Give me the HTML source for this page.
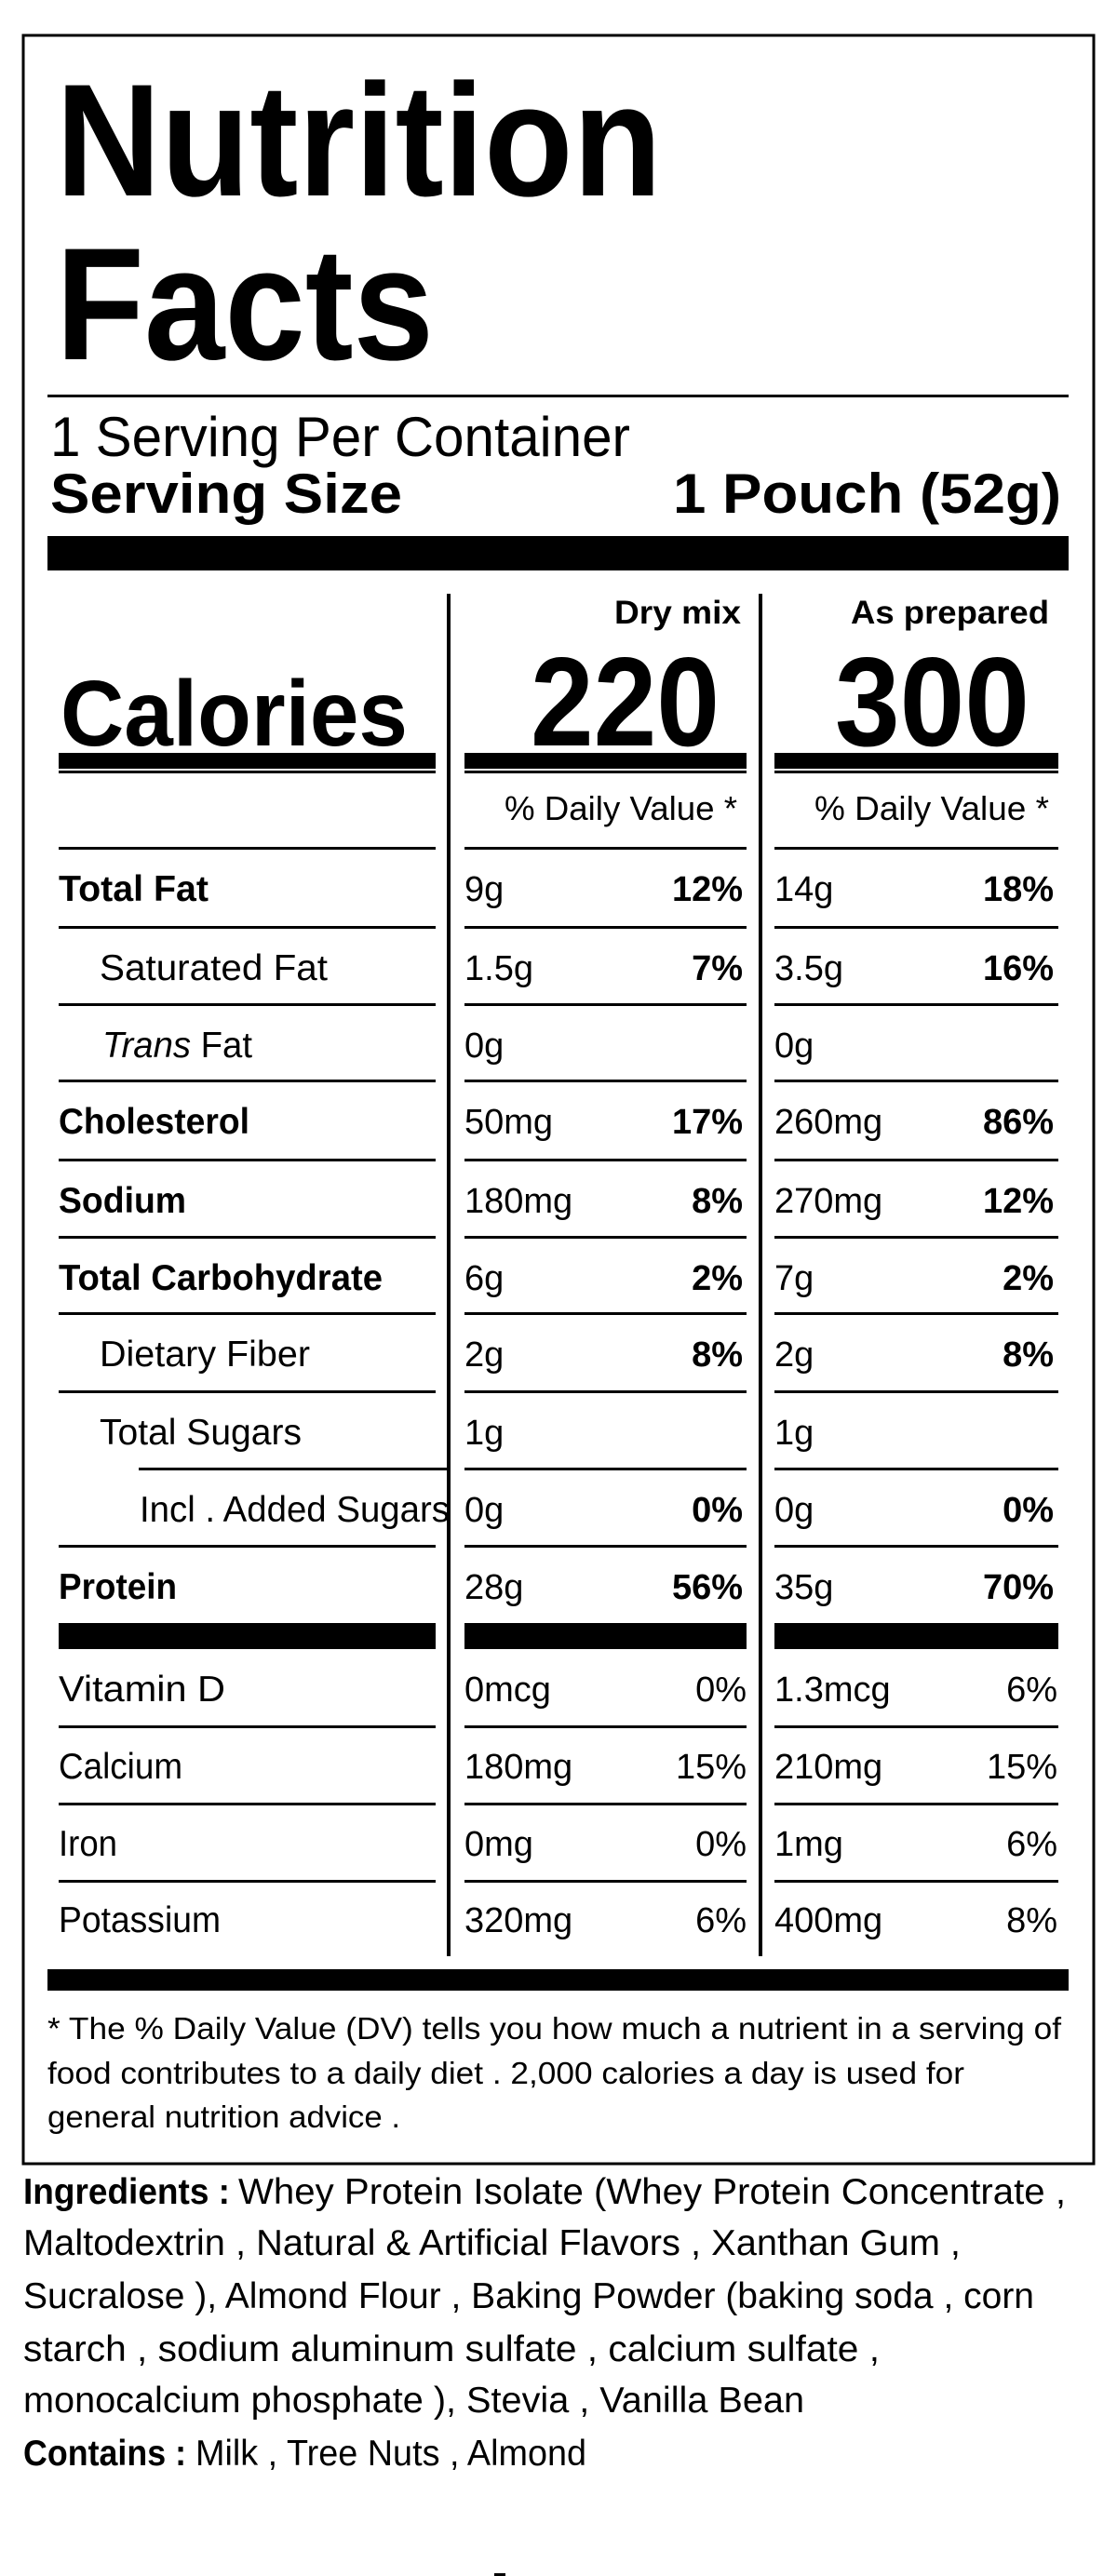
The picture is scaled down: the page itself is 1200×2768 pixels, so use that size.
<!DOCTYPE html>
<html><head><meta charset="utf-8"><style>
html,body{margin:0;padding:0;background:#fff;}
svg{display:block;}
text{font-family:"Liberation Sans",Arial,sans-serif;fill:#000;}
.b{font-weight:bold;}
</style></head><body>
<svg width="1200" height="2768" viewBox="0 0 1200 2768" xmlns="http://www.w3.org/2000/svg">
<rect x="25" y="38" width="1150" height="2287" fill="none" stroke="#000" stroke-width="3"/>
<text x="60" y="210" class="b" font-size="172" textLength="651" lengthAdjust="spacingAndGlyphs">Nutrition</text>
<text x="60" y="386" class="b" font-size="172" textLength="406" lengthAdjust="spacingAndGlyphs">Facts</text>
<rect x="51" y="424" width="1097" height="3"/>
<text x="54" y="490" font-size="60" textLength="623" lengthAdjust="spacingAndGlyphs">1 Serving  Per Container</text>
<text x="54" y="551" class="b" font-size="60" textLength="378" lengthAdjust="spacingAndGlyphs">Serving Size</text>
<text x="723" y="551" class="b" font-size="60" textLength="417" lengthAdjust="spacingAndGlyphs">1 Pouch (52g)</text>
<rect x="51" y="576" width="1097" height="37"/>
<rect x="480" y="638" width="4" height="1464"/>
<rect x="815" y="638" width="4" height="1464"/>
<text x="660" y="670" class="b" font-size="35" textLength="136" lengthAdjust="spacingAndGlyphs">Dry mix</text>
<text x="914" y="670" class="b" font-size="35" textLength="213" lengthAdjust="spacingAndGlyphs">As prepared</text>
<text x="65" y="801" class="b" font-size="100" textLength="373" lengthAdjust="spacingAndGlyphs">Calories</text>
<text x="570" y="801" class="b" font-size="136" textLength="203" lengthAdjust="spacingAndGlyphs">220</text>
<text x="897" y="801" class="b" font-size="136" textLength="209" lengthAdjust="spacingAndGlyphs">300</text>
<g>
<rect x="63" y="809" width="405" height="17"/><rect x="63" y="828" width="405" height="3"/>
<rect x="499" y="809" width="303" height="17"/><rect x="499" y="828" width="303" height="3"/>
<rect x="832" y="809" width="305" height="17"/><rect x="832" y="828" width="305" height="3"/>
</g>
<text x="542" y="881" font-size="36" textLength="250" lengthAdjust="spacingAndGlyphs">% Daily  Value *</text>
<text x="875" y="881" font-size="36" textLength="252" lengthAdjust="spacingAndGlyphs">% Daily  Value *</text>
<g fill="#000">
<rect x="63" y="910" width="405" height="3"/><rect x="499" y="910" width="303" height="3"/><rect x="832" y="910" width="305" height="3"/>
<rect x="63" y="995" width="405" height="3"/><rect x="499" y="995" width="303" height="3"/><rect x="832" y="995" width="305" height="3"/>
<rect x="63" y="1078" width="405" height="3"/><rect x="499" y="1078" width="303" height="3"/><rect x="832" y="1078" width="305" height="3"/>
<rect x="63" y="1160" width="405" height="3"/><rect x="499" y="1160" width="303" height="3"/><rect x="832" y="1160" width="305" height="3"/>
<rect x="63" y="1245" width="405" height="3"/><rect x="499" y="1245" width="303" height="3"/><rect x="832" y="1245" width="305" height="3"/>
<rect x="63" y="1328" width="405" height="3"/><rect x="499" y="1328" width="303" height="3"/><rect x="832" y="1328" width="305" height="3"/>
<rect x="63" y="1410" width="405" height="3"/><rect x="499" y="1410" width="303" height="3"/><rect x="832" y="1410" width="305" height="3"/>
<rect x="63" y="1494" width="405" height="3"/><rect x="499" y="1494" width="303" height="3"/><rect x="832" y="1494" width="305" height="3"/>
<rect x="149" y="1577" width="331" height="3"/><rect x="499" y="1577" width="303" height="3"/><rect x="832" y="1577" width="305" height="3"/>
<rect x="63" y="1660" width="405" height="3"/><rect x="499" y="1660" width="303" height="3"/><rect x="832" y="1660" width="305" height="3"/>
<rect x="63" y="1744" width="405" height="28"/><rect x="499" y="1744" width="303" height="28"/><rect x="832" y="1744" width="305" height="28"/>
<rect x="63" y="1854" width="405" height="3"/><rect x="499" y="1854" width="303" height="3"/><rect x="832" y="1854" width="305" height="3"/>
<rect x="63" y="1937" width="405" height="3"/><rect x="499" y="1937" width="303" height="3"/><rect x="832" y="1937" width="305" height="3"/>
<rect x="63" y="2020" width="405" height="3"/><rect x="499" y="2020" width="303" height="3"/><rect x="832" y="2020" width="305" height="3"/>
</g>
<g font-size="39">
<text x="63" y="968" class="b" textLength="161" lengthAdjust="spacingAndGlyphs">Total  Fat</text>
<text x="107" y="1053" textLength="245" lengthAdjust="spacingAndGlyphs">Saturated   Fat</text>
<text x="110" y="1136" textLength="161" lengthAdjust="spacingAndGlyphs"><tspan font-style="italic">Trans</tspan> Fat</text>
<text x="63" y="1218" class="b" textLength="205" lengthAdjust="spacingAndGlyphs">Cholesterol</text>
<text x="63" y="1303" class="b" textLength="137" lengthAdjust="spacingAndGlyphs">Sodium</text>
<text x="63" y="1386" class="b" textLength="348" lengthAdjust="spacingAndGlyphs">Total  Carbohydrate</text>
<text x="107" y="1468" textLength="226" lengthAdjust="spacingAndGlyphs">Dietary  Fiber</text>
<text x="107" y="1552" textLength="217" lengthAdjust="spacingAndGlyphs">Total  Sugars</text>
<text x="150" y="1635" textLength="333" lengthAdjust="spacingAndGlyphs">Incl . Added  Sugars</text>
<text x="63" y="1718" class="b" textLength="127" lengthAdjust="spacingAndGlyphs">Protein</text>
<text x="63" y="1828" textLength="179" lengthAdjust="spacingAndGlyphs">Vitamin   D</text>
<text x="63" y="1911" textLength="133" lengthAdjust="spacingAndGlyphs">Calcium</text>
<text x="63" y="1994" textLength="63" lengthAdjust="spacingAndGlyphs">Iron</text>
<text x="63" y="2076" textLength="174" lengthAdjust="spacingAndGlyphs">Potassium</text>
</g>
<g font-size="38">
<text x="499" y="968">9g</text><text x="798" y="968" class="b" text-anchor="end">12%</text>
<text x="832" y="968">14g</text><text x="1132" y="968" class="b" text-anchor="end">18%</text>
<text x="499" y="1053">1.5g</text><text x="798" y="1053" class="b" text-anchor="end">7%</text>
<text x="832" y="1053">3.5g</text><text x="1132" y="1053" class="b" text-anchor="end">16%</text>
<text x="499" y="1136">0g</text>
<text x="832" y="1136">0g</text>
<text x="499" y="1218">50mg</text><text x="798" y="1218" class="b" text-anchor="end">17%</text>
<text x="832" y="1218">260mg</text><text x="1132" y="1218" class="b" text-anchor="end">86%</text>
<text x="499" y="1303">180mg</text><text x="798" y="1303" class="b" text-anchor="end">8%</text>
<text x="832" y="1303">270mg</text><text x="1132" y="1303" class="b" text-anchor="end">12%</text>
<text x="499" y="1386">6g</text><text x="798" y="1386" class="b" text-anchor="end">2%</text>
<text x="832" y="1386">7g</text><text x="1132" y="1386" class="b" text-anchor="end">2%</text>
<text x="499" y="1468">2g</text><text x="798" y="1468" class="b" text-anchor="end">8%</text>
<text x="832" y="1468">2g</text><text x="1132" y="1468" class="b" text-anchor="end">8%</text>
<text x="499" y="1552">1g</text>
<text x="832" y="1552">1g</text>
<text x="499" y="1635">0g</text><text x="798" y="1635" class="b" text-anchor="end">0%</text>
<text x="832" y="1635">0g</text><text x="1132" y="1635" class="b" text-anchor="end">0%</text>
<text x="499" y="1718">28g</text><text x="798" y="1718" class="b" text-anchor="end">56%</text>
<text x="832" y="1718">35g</text><text x="1132" y="1718" class="b" text-anchor="end">70%</text>
<text x="499" y="1828">0mcg</text><text x="802" y="1828" text-anchor="end">0%</text>
<text x="832" y="1828">1.3mcg</text><text x="1136" y="1828" text-anchor="end">6%</text>
<text x="499" y="1911">180mg</text><text x="802" y="1911" text-anchor="end">15%</text>
<text x="832" y="1911">210mg</text><text x="1136" y="1911" text-anchor="end">15%</text>
<text x="499" y="1994">0mg</text><text x="802" y="1994" text-anchor="end">0%</text>
<text x="832" y="1994">1mg</text><text x="1136" y="1994" text-anchor="end">6%</text>
<text x="499" y="2076">320mg</text><text x="802" y="2076" text-anchor="end">6%</text>
<text x="832" y="2076">400mg</text><text x="1136" y="2076" text-anchor="end">8%</text>
</g>
<rect x="51" y="2116" width="1097" height="23"/>
<g font-size="33">
<text x="51" y="2191" textLength="1089" lengthAdjust="spacingAndGlyphs">* The % Daily Value (DV) tells  you  how  much  a nutrient   in a serving  of</text>
<text x="51" y="2239" textLength="985" lengthAdjust="spacingAndGlyphs">food  contributes   to a daily  diet . 2,000  calories  a day is used  for</text>
<text x="51" y="2286" textLength="379" lengthAdjust="spacingAndGlyphs">general  nutrition   advice .</text>
</g>
<g font-size="39">
<text x="25" y="2368" class="b" textLength="222" lengthAdjust="spacingAndGlyphs">Ingredients :</text>
<text x="256" y="2368" textLength="889" lengthAdjust="spacingAndGlyphs">Whey Protein  Isolate  (Whey Protein  Concentrate  ,</text>
<text x="25" y="2423" textLength="1007" lengthAdjust="spacingAndGlyphs">Maltodextrin  , Natural  &amp; Artificial   Flavors , Xanthan  Gum ,</text>
<text x="25" y="2480" textLength="1086" lengthAdjust="spacingAndGlyphs">Sucralose ), Almond  Flour , Baking  Powder  (baking  soda , corn</text>
<text x="25" y="2537" textLength="920" lengthAdjust="spacingAndGlyphs">starch , sodium   aluminum   sulfate , calcium   sulfate ,</text>
<text x="25" y="2592" textLength="839" lengthAdjust="spacingAndGlyphs">monocalcium    phosphate  ), Stevia , Vanilla  Bean</text>
<text x="25" y="2649" class="b" textLength="175" lengthAdjust="spacingAndGlyphs">Contains :</text>
<text x="210" y="2649" textLength="420" lengthAdjust="spacingAndGlyphs">Milk , Tree  Nuts , Almond</text>
</g>
<rect x="531" y="2765" width="12" height="3"/>
</svg>
</body></html>
